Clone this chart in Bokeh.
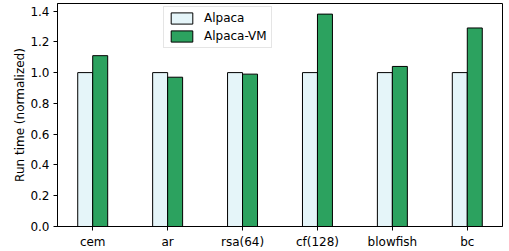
from bokeh.plotting import figure
from bokeh.models import Range1d, FixedTicker, NumeralTickFormatter, ColumnDataSource, Legend, LegendItem
from bokeh.transform import dodge
from bokeh.embed import file_html
from bokeh.resources import INLINE

categories = ["cem", "ar", "rsa(64)", "cf(128)", "blowfish", "bc"]
alpaca = [1.0, 1.0, 1.0, 1.0, 1.0, 1.0]
alpaca_vm = [1.11, 0.97, 0.99, 1.38, 1.04, 1.29]
y_ticks = [0.0, 0.2, 0.4, 0.6, 0.8, 1.0, 1.2, 1.4]

idx = list(range(len(categories)))
src = ColumnDataSource(dict(idx=idx, alpaca=alpaca, vm=alpaca_vm))

FONT = "DejaVu Sans"
p = figure(width=509, height=251, output_backend="svg", toolbar_location=None,
           x_range=Range1d(-0.47, len(categories) - 1 + 0.47),
           y_range=Range1d(0, 1.449),
           min_border_left=57, min_border_right=7, min_border_top=3, min_border_bottom=24)

r1 = p.vbar(x=dodge("idx", -0.1), top="alpaca", width=0.2, source=src,
            fill_color="#e5f5f9", line_color="black", line_width=1)
r2 = p.vbar(x=dodge("idx", 0.1), top="vm", width=0.2, source=src,
            fill_color="#2ca25f", line_color="black", line_width=1)

p.xgrid.visible = False
p.ygrid.visible = False
p.outline_line_color = "black"
p.outline_line_width = 1

p.xaxis.ticker = FixedTicker(ticks=idx)
p.xaxis.major_label_overrides = {i: c for i, c in zip(idx, categories)}
p.yaxis.ticker = FixedTicker(ticks=y_ticks)
p.yaxis.formatter = NumeralTickFormatter(format="0.0")
for ax in (p.xaxis[0], p.yaxis[0]):
    ax.axis_line_color = "black"
    ax.major_tick_line_color = "black"
    ax.major_tick_in = 0
    ax.major_tick_out = 4
    ax.minor_tick_line_color = None
    ax.major_label_text_font = FONT
    ax.major_label_text_font_size = "12px"
    ax.major_label_text_color = "black"
    ax.major_label_standoff = 4
p.yaxis.axis_label = "Run time (normalized)"
p.yaxis.axis_label_text_font = FONT
p.yaxis.axis_label_text_font_size = "12px"
p.yaxis.axis_label_text_font_style = "normal"
p.yaxis.axis_label_text_color = "black"
p.yaxis.axis_label_standoff = 0

legend = Legend(items=[LegendItem(label="Alpaca", renderers=[r1]),
                       LegendItem(label="Alpaca-VM", renderers=[r2])],
                location=(106, 224 - 6 - 40),
                label_text_font=FONT, label_text_font_size="12px",
                label_text_color="black",
                glyph_width=27, glyph_height=14, label_height=14,
                spacing=4, padding=4, margin=0, label_standoff=9,
                border_line_color="#cccccc", background_fill_alpha=0.8)
p.add_layout(legend)

open("out.html", "w").write(file_html(p, INLINE))
